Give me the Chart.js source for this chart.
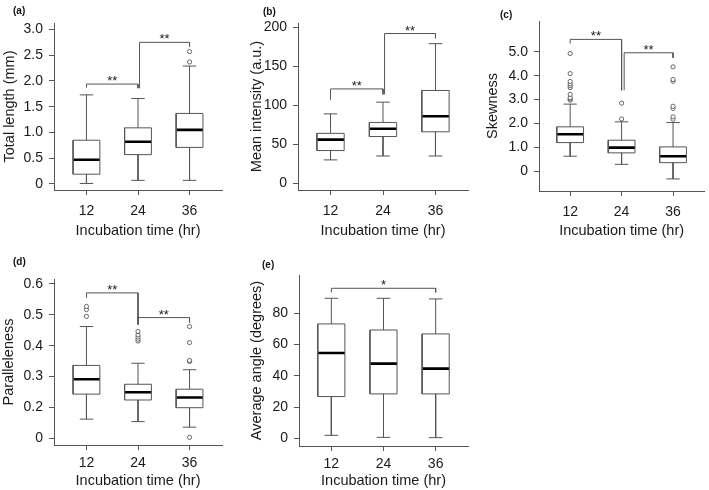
<!DOCTYPE html>
<html lang="en">
<head>
<meta charset="UTF-8">
<title>Incubation time box plots</title>
<script src="https://cdn.jsdelivr.net/npm/chart.js"></script>
<style>
  body { margin: 0; background: #fff; }
  #fig { position: relative; width: 709px; height: 490px; overflow: hidden; }
  #fig canvas { position: absolute; }
  .tag { position: absolute; font: bold 10px "Liberation Sans", Arial, sans-serif; color: #111; }
</style>
</head>
<body>
<div id="fig">
  <canvas id="pa" width="230" height="240" style="left:0;top:0"></canvas>
  <canvas id="pb" width="240" height="240" style="left:230px;top:0"></canvas>
  <canvas id="pc" width="239" height="240" style="left:470px;top:0"></canvas>
  <canvas id="pd" width="230" height="250" style="left:0;top:240px"></canvas>
  <canvas id="pe" width="240" height="250" style="left:230px;top:240px"></canvas>
  <div class="tag" style="left:13px;top:5px">(a)</div>
  <div class="tag" style="left:263px;top:6px">(b)</div>
  <div class="tag" style="left:500px;top:9px">(c)</div>
  <div class="tag" style="left:13px;top:256px">(d)</div>
  <div class="tag" style="left:262px;top:259px">(e)</div>
</div>

<script>
  const groups = ['12', '24', '36'];

  // (a) total length
  const aLow = [0.01, 0.07, 0.07];
  const aQ1 = [0.19, 0.57, 0.71];
  const aMed = [0.47, 0.82, 1.05];
  const aQ3 = [0.85, 1.09, 1.37];
  const aHigh = [1.73, 1.66, 2.29];
  const aOut = [[], [], [2.37, 2.57]];
  const aTicks = [0, 0.5, 1, 1.5, 2, 2.5, 3];
  const aTickLabels = ['0', '0.5', '1.0', '1.5', '2.0', '2.5', '3.0'];
  const aSig = [
    { from: 1, to: 2, top: 1.94, left: 1.87, right: 1.86, text: '**' },
    { from: 2.03, to: 3, top: 2.75, left: 1.86, right: 2.67, text: '**' }
  ];

  // (b) mean intensity
  const bLow = [30, 35, 35];
  const bQ1 = [42, 60, 66];
  const bMed = [56, 70, 86];
  const bQ3 = [64, 78, 119];
  const bHigh = [89, 104, 179];
  const bOut = [[], [], []];
  const bTicks = [0, 50, 100, 150, 200];
  const bTickLabels = ['0', '50', '100', '150', '200'];
  const bSig = [
    { from: 1, to: 2, top: 121, left: 107, right: 114, text: '**' },
    { from: 2.03, to: 3, top: 192, left: 114, right: 186, text: '**' }
  ];

  // (c) skewness
  const cLow = [0.63, 0.29, -0.32];
  const cQ1 = [1.20, 0.77, 0.36];
  const cMed = [1.55, 0.99, 0.63];
  const cQ3 = [1.86, 1.30, 1.02];
  const cHigh = [2.81, 2.07, 2.04];
  const cOut = [
    [2.98, 3.03, 3.08, 3.22, 3.5, 3.58, 3.66, 3.76, 4.09, 4.93],
    [2.19, 2.85],
    [2.18, 2.28, 2.63, 2.72, 3.77, 3.84, 4.37]
  ];
  const cTicks = [0, 1, 2, 3, 4, 5];
  const cTickLabels = ['0', '1.0', '2.0', '3.0', '4.0', '5.0'];
  const cSig = [
    { from: 1, to: 2, top: 5.52, left: 5.35, right: 3.39, text: '**' },
    { from: 2.05, to: 3, top: 4.96, left: 3.39, right: 4.75, text: '**' }
  ];

  // (d) paralleleness (bottom tick is labelled 0 in the figure)
  const dLow = [0.162, 0.154, 0.136];
  const dQ1 = [0.243, 0.224, 0.199];
  const dMed = [0.291, 0.249, 0.232];
  const dQ3 = [0.336, 0.275, 0.259];
  const dHigh = [0.462, 0.343, 0.322];
  const dOut = [
    [0.495, 0.517, 0.527],
    [0.415, 0.421, 0.428, 0.435, 0.446],
    [0.103, 0.349, 0.352, 0.410, 0.462]
  ];
  const dTicks = [0.1, 0.2, 0.3, 0.4, 0.5, 0.6];
  const dTickLabels = ['0', '0.2', '0.3', '0.4', '0.5', '0.6'];
  const dSig = [
    { from: 1, to: 2, top: 0.571, left: 0.555, right: 0.468, text: '**' },
    { from: 2, to: 3, top: 0.491, left: 0.468, right: 0.475, text: '**' }
  ];

  // (e) average angle
  const eLow = [1.9, 0.6, 0.4];
  const eQ1 = [26.7, 28.4, 28.4];
  const eMed = [54.6, 47.8, 44.6];
  const eQ3 = [73.2, 69.3, 66.8];
  const eHigh = [89.6, 89.6, 89.2];
  const eOut = [[], [], []];
  const eTicks = [0, 20, 40, 60, 80];
  const eTickLabels = ['0', '20', '40', '60', '80'];
  const eSig = [
    { from: 1, to: 3, top: 96, left: 93.4, right: 93.4, text: '*' }
  ];

  const FONT = '"Liberation Sans", Arial, sans-serif';
  const INK = '#1a1a1a';
  const LINE = '#555';

  // draws the ** / * marks above the brackets
  const starPlugin = {
    id: 'stars',
    afterDatasetsDraw(chart) {
      const { ctx, scales: { x, y } } = chart;
      const sig = chart.config.options.sigList;
      ctx.save();
      ctx.font = '13px ' + FONT;
      ctx.fillStyle = INK;
      ctx.textAlign = 'center';
      ctx.textBaseline = 'alphabetic';
      sig.forEach(s => {
        const px = x.getPixelForValue((s.from + s.to) / 2);
        const py = y.getPixelForValue(s.top);
        ctx.fillText(s.text, px, py + 1);
      });
      ctx.restore();
    }
  };

  function boxPlot(id, p) {
    const hw = 0.26, cw = 0.13;
    const frame = [], med = [], out = [], brk = [];
    const gap = () => ({ x: null, y: null });

    p.low.forEach((lo, i) => {
      const x = i + 1;
      const q1 = p.q1[i], q3 = p.q3[i], hi = p.high[i];
      frame.push({ x: x - hw, y: q1 }, { x: x + hw, y: q1 }, { x: x + hw, y: q3 },
                 { x: x - hw, y: q3 }, { x: x - hw, y: q1 }, gap());
      frame.push({ x: x, y: q3 }, { x: x, y: hi }, gap());
      frame.push({ x: x - cw, y: hi }, { x: x + cw, y: hi }, gap());
      frame.push({ x: x, y: q1 }, { x: x, y: lo }, gap());
      frame.push({ x: x - cw, y: lo }, { x: x + cw, y: lo }, gap());
      med.push({ x: x - hw, y: p.med[i] }, { x: x + hw, y: p.med[i] }, gap());
      p.out[i].forEach(v => out.push({ x: x, y: v }));
    });

    p.sig.forEach(s => {
      brk.push({ x: s.from, y: s.left }, { x: s.from, y: s.top },
               { x: s.to, y: s.top }, { x: s.to, y: s.right }, gap());
    });

    const lineSet = (data, color, width) => ({
      data, borderColor: color, borderWidth: width, pointRadius: 0,
      tension: 0, fill: false, borderCapStyle: 'butt', clip: false
    });

    new Chart(document.getElementById(id), {
      type: 'line',
      data: {
        datasets: [
          lineSet(frame, LINE, 1),
          lineSet(brk, LINE, 1),
          lineSet(med, '#000', 2.6),
          {
            data: out, showLine: false, pointRadius: 2.1, pointBorderWidth: 0.8,
            pointBorderColor: '#444', pointBackgroundColor: '#fff', clip: false
          }
        ]
      },
      plugins: [starPlugin],
      options: {
        responsive: false,
        animation: false,
        sigList: p.sig,
        layout: { padding: p.pad },
        plugins: { legend: { display: false }, tooltip: { enabled: false } },
        scales: {
          x: {
            type: 'linear',
            min: p.xMin,
            max: p.xMax,
            afterBuildTicks: s => { s.ticks = groups.map((g, i) => ({ value: i + 1 })); },
            afterFit: s => { s.height = p.xH; },
            ticks: {
              autoSkip: false, maxRotation: 0, padding: p.xTickPad, color: INK,
              font: { family: FONT, size: 14 },
              callback: (v, i) => groups[i]
            },
            grid: { drawOnChartArea: false, drawTicks: true, tickLength: 5, color: LINE, lineWidth: 1 },
            border: { display: true, color: LINE, width: 1 },
            title: {
              display: true, text: 'Incubation time (hr)', color: INK,
              font: { family: FONT, size: 14.5 }, padding: { top: 0, bottom: p.xTitlePad }
            }
          },
          y: {
            min: p.yMin,
            max: p.yMax,
            afterBuildTicks: s => { s.ticks = p.ticks.map(v => ({ value: v })); },
            afterFit: s => { s.width = p.yW; },
            ticks: {
              autoSkip: false, padding: 6, color: INK,
              font: { family: FONT, size: 14 },
              callback: (v, i) => p.tickLabels[i]
            },
            grid: { drawOnChartArea: false, drawTicks: true, tickLength: 5, color: LINE, lineWidth: 1 },
            border: { display: true, color: LINE, width: 1 },
            title: {
              display: true, text: p.yTitle, color: INK,
              font: { family: FONT, size: 14.5 }, padding: { top: p.yTitlePad, bottom: 0 }
            }
          }
        }
      }
    });
  }

  boxPlot('pa', {
    low: aLow, q1: aQ1, med: aMed, q3: aQ3, high: aHigh, out: aOut, sig: aSig,
    ticks: aTicks, tickLabels: aTickLabels, yTitle: 'Total length (mm)',
    yMin: -0.117, yMax: 3.126, xMin: 0.37, xMax: 3.63,
    yW: 54, xH: 50, pad: { left: 0, top: 23, right: 8, bottom: 0 },
    xTickPad: 8, xTitlePad: 0, yTitlePad: 1
  });

  boxPlot('pb', {
    low: bLow, q1: bQ1, med: bMed, q3: bQ3, high: bHigh, out: bOut, sig: bSig,
    ticks: bTicks, tickLabels: bTickLabels, yTitle: 'Mean intensity (a.u.)',
    yMin: -8.6, yMax: 205.5, xMin: 0.38, xMax: 3.62,
    yW: 68, xH: 50, pad: { left: 0, top: 23, right: 2, bottom: 0 },
    xTickPad: 8, xTitlePad: 0, yTitlePad: 18
  });

  boxPlot('pc', {
    low: cLow, q1: cQ1, med: cMed, q3: cQ3, high: cHigh, out: cOut, sig: cSig,
    ticks: cTicks, tickLabels: cTickLabels, yTitle: 'Skewness',
    yMin: -0.826, yMax: 6.29, xMin: 0.394, xMax: 3.606,
    yW: 69, xH: 49, pad: { left: 0, top: 21, right: 1.6, bottom: 0 },
    xTickPad: 8, xTitlePad: 0, yTitlePad: 14
  });

  boxPlot('pd', {
    low: dLow, q1: dQ1, med: dMed, q3: dQ3, high: dHigh, out: dOut, sig: dSig,
    ticks: dTicks, tickLabels: dTickLabels, yTitle: 'Paralleleness',
    yMin: 0.0782, yMax: 0.616, xMin: 0.37, xMax: 3.63,
    yW: 54, xH: 45, pad: { left: 0, top: 39, right: 8, bottom: 0 },
    xTickPad: 5, xTitlePad: 0, yTitlePad: 0
  });

  boxPlot('pe', {
    low: eLow, q1: eQ1, med: eMed, q3: eQ3, high: eHigh, out: eOut, sig: eSig,
    ticks: eTicks, tickLabels: eTickLabels, yTitle: 'Average angle (degrees)',
    yMin: -4.93, yMax: 104.5, xMin: 0.38, xMax: 3.62,
    yW: 69, xH: 44, pad: { left: 0, top: 35, right: 2, bottom: 0 },
    xTickPad: 5, xTitlePad: 0, yTitlePad: 18
  });
</script>
</body>
</html>
